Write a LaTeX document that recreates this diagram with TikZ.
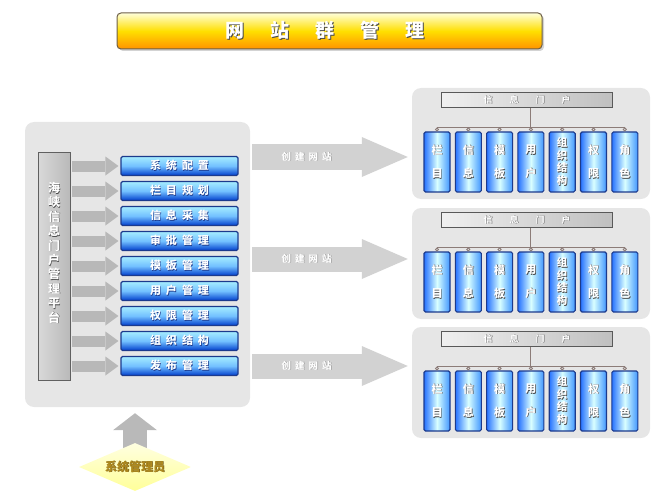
\documentclass[tikz,border=0pt]{standalone}
\usepackage{fontspec}
\setmainfont{Noto Sans CJK SC}
\usetikzlibrary{arrows.meta,shapes.geometric,shadows,backgrounds}
\definecolor{panelgray}{HTML}{E6E6E6}
\definecolor{shadowc}{HTML}{4A4A4A}
\definecolor{titleborder}{HTML}{6E6048}
\definecolor{boxborder}{HTML}{1C3A8C}
\definecolor{arrgray}{HTML}{B8B8B8}
\definecolor{bigarrgray}{HTML}{D2D2D2}
\definecolor{connc}{HTML}{8C7C78}
\definecolor{admintext}{HTML}{B08A1E}
\definecolor{adminshadow}{HTML}{5A4410}
\newcommand\stx[2][shadowc]{\rlap{\textcolor{#1}{\kern0.7pt\raisebox{-0.7pt}{#2}}}#2}
\newcommand\gp{\kern5pt}
\newcommand\twoch[2]{\stx{#1}\\[11pt]\stx{#2}}
\newcommand\fourch[4]{\stx{#1}\\\stx{#2}\\\stx{#3}\\\stx{#4}}
\begin{document}
\begin{tikzpicture}[x=1pt,y=-1pt,
  panel/.style={draw=none,fill=panelgray,rounded corners=9pt},
  titlebar/.style={rounded corners=4pt,draw=titleborder,line width=1pt,
    top color=white!85!yellow,bottom color=orange!85!yellow,middle color=yellow!75!orange,
    minimum width=425pt,minimum height=36pt,text=white,
    drop shadow={shadow xshift=2pt,shadow yshift=-2pt,opacity=0.35}},
  vbar/.style={draw=gray!75!black,line width=0.8pt,left color=gray!30,right color=gray!55,
    minimum width=32pt,minimum height=228pt},
  bluebox/.style={draw=boxborder,line width=1.1pt,rounded corners=1.5pt,
    top color=blue!20!cyan!35,bottom color=blue!70!cyan!80!black,middle color=blue!45!cyan!55,
    minimum width=117pt,minimum height=19pt,inner sep=0pt,text=white,
    font=\fontsize{11}{12}\selectfont\bfseries},
  smallarr/.style={arrgray,line width=11pt,-{Triangle[length=13pt,width=19pt,line width=0pt]}},
  bigarr/.style={bigarrgray,line width=25pt,-{Triangle[length=46pt,width=40pt,line width=0pt]}},
  uparr/.style={gray!55,line width=24pt,-{Triangle[length=17pt,width=44pt,line width=0pt]}},
  hdr/.style={draw=gray!70!black,line width=0.8pt,left color=gray!12,right color=gray!50,
    minimum width=171pt,minimum height=15pt,inner sep=0pt,text=white,
    font=\fontsize{9}{10}\selectfont\bfseries},
  subbox/.style={draw=boxborder,line width=1.1pt,rounded corners=1.5pt,
    left color=blue!65!cyan!85,right color=blue!55!cyan!75,middle color=cyan!15!white,
    minimum width=26pt,minimum height=60pt,inner sep=0pt,text=white,align=center,
    font=\fontsize{11}{12.5}\selectfont\bfseries},
  conn/.style={connc,line width=0.9pt},
  admin/.style={shape=diamond,aspect=2.3,inner sep=0pt,minimum width=112pt,minimum height=48pt,
    top color=yellow!12,bottom color=yellow!40,draw=none,text=admintext,
    font=\fontsize{12}{13}\selectfont\bfseries}
]
\useasboundingbox (0,0) rectangle (669,500);

% title
\node[titlebar] (title) at (329.5,31) {};
\node[text=white,font=\fontsize{19}{20}\selectfont\bfseries] (titletxt) at (325,31)
  {\stx{网}\hspace{26pt}\stx{站}\hspace{26pt}\stx{群}\hspace{26pt}\stx{管}\hspace{26pt}\stx{理}};

% left platform
\node[panel,minimum width=225pt,minimum height=285pt] (lp) at (137.5,264.5) {};
\node[vbar] (bar) at (54,266) {};
\node[text=white,align=center,font=\fontsize{12}{14.4}\selectfont\bfseries] (bartxt) at (54,253)
  {\stx{海}\\\stx{峡}\\\stx{信}\\\stx{息}\\\stx{门}\\\stx{户}\\\stx{管}\\\stx{理}\\\stx{平}\\\stx{台}};

\foreach \t [count=\i from 0] in {系\gp 统\gp 配\gp 置,栏\gp 目\gp 规\gp 划,信\gp 息\gp 采\gp 集,
  审\gp 批\gp 管\gp 理,模\gp 板\gp 管\gp 理,用\gp 户\gp 管\gp 理,权\gp 限\gp 管\gp 理,
  组\gp 织\gp 结\gp 构,发\gp 布\gp 管\gp 理} {
  \node[bluebox] (m\i) at (179.5,166+25*\i) {\stx[boxborder]{\t}};
  \draw[smallarr] ([xshift=2pt]bar.east |- m\i.west) -- ([xshift=-2pt]m\i.west);
}

% right portals
\foreach \k/\dy in {1/0,2/120,3/239} {
  \begin{scope}[shift={(0,\dy)}]
    \node[panel,minimum width=238pt,minimum height=111pt] (p\k) at (531,143.5) {};
    \node[hdr] (h\k) at (527,100) {\stx{信}\hspace{17pt}\stx{息}\hspace{17pt}\stx{门}\hspace{17pt}\stx{户}};
    \node[subbox] (s\k0) at (437,162) {\twoch{栏}{目}};
    \node[subbox] (s\k1) at (468.3,162) {\twoch{信}{息}};
    \node[subbox] (s\k2) at (499.6,162) {\twoch{模}{板}};
    \node[subbox] (s\k3) at (530.9,162) {\twoch{用}{户}};
    \node[subbox,font=\fontsize{10.5}{12.5}\selectfont\bfseries] (s\k4) at (562.2,162) {\fourch{组}{织}{结}{构}};
    \node[subbox] (s\k5) at (593.5,162) {\twoch{权}{限}};
    \node[subbox] (s\k6) at (624.8,162) {\twoch{角}{色}};
    \coordinate (l\k) at (531,127);
  \end{scope}
  \draw[conn] (h\k.south -| s\k3.north) -- (s\k3.north |- l\k);
  \draw[conn] (s\k0.north |- l\k) -- (s\k6.north |- l\k);
  \foreach \j in {0,...,6}
    \draw[conn,-{Circle[open,length=4pt,width=4pt]}] (s\k\j.north |- l\k) -- (s\k\j.north);
}

% create-site arrows
\foreach \y/\k in {157/1,259/2,366/3}
  \draw[bigarr] ([xshift=2pt]lp.east |- 0,\y) -- ([xshift=-4pt]p\k.west |- 0,\y)
    node[pos=0.35,text=white,font=\fontsize{9.5}{10}\selectfont\bfseries] (c\k)
    {\stx[gray!75]{创\kern4pt 建\kern4pt 网\kern4pt 站}};

% administrator
\node[admin] (admin) at (135,467) {\stx[adminshadow]{系统管理员}};
\begin{scope}[on background layer]
  \draw[uparr] ([yshift=-10pt]admin.north) -- ([yshift=-6pt]admin.north |- lp.south);
\end{scope}
\end{tikzpicture}
\end{document}
